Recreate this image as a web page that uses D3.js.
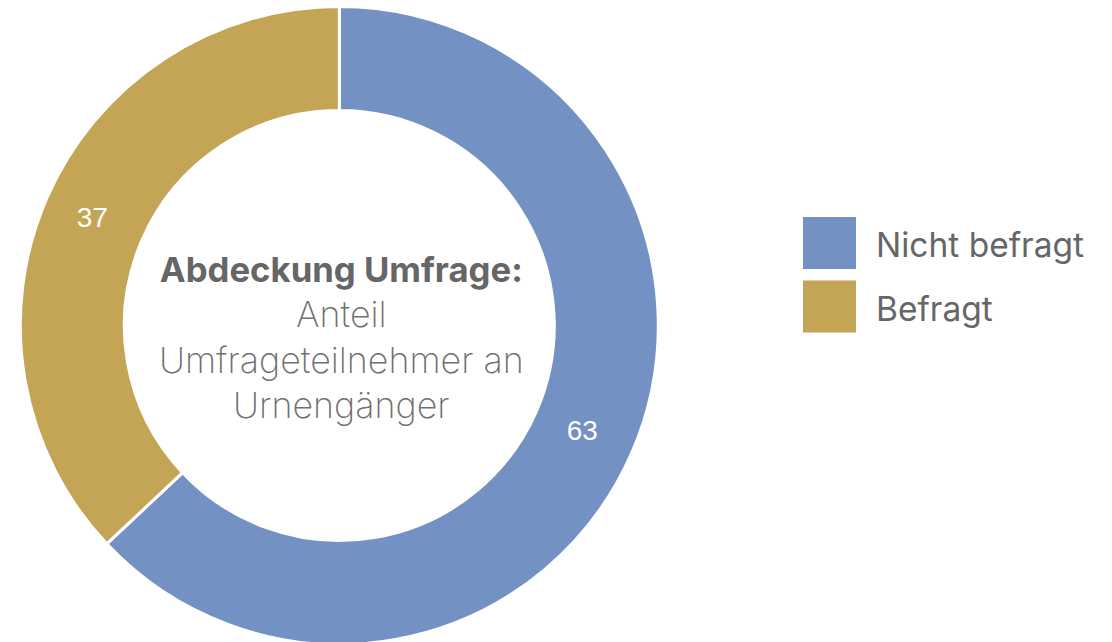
<!DOCTYPE html>
<html>
<head>
<meta charset="utf-8">
<script src="https://cdn.jsdelivr.net/npm/d3@7"></script>
<style>
  html, body { margin: 0; padding: 0; background: #fff; }
  svg { display: block; }
</style>
</head>
<body>
<svg id="chart" width="1112" height="642"></svg>
<script>
const categories = ["Nicht befragt", "Befragt"];
const values = [63, 37];
const palette = ["#7491C3", "#C4A455"];
const centerTitle = "Abdeckung Umfrage:";
const centerLines = ["Anteil", "Umfrageteilnehmer an", "Urnengänger"];

const svg = d3.select("#chart");
const cx = 339.3, cy = 325.5;
const outerR = 319, innerR = 215;

const color = d3.scaleOrdinal().domain(categories).range(palette);

const pie = d3.pie().sort(null).value(d => d.value);
const arc = d3.arc().innerRadius(innerR).outerRadius(outerR);

const arcs = pie(categories.map((c, i) => ({ name: c, value: values[i] })));

const g = svg.append("g").attr("transform", "translate(" + cx + "," + cy + ")");

g.selectAll("path")
    .data(arcs)
    .enter()
    .append("path")
    .attr("d", arc)
    .attr("fill", d => color(d.data.name))
    .attr("stroke", "#fff")
    .attr("stroke-width", 3);

g.selectAll("text.value")
    .data(arcs)
    .enter()
    .append("text")
    .attr("class", "value")
    .attr("x", d => arc.centroid(d)[0] - 2)
    .attr("y", d => arc.centroid(d)[1] + 8)
    .attr("text-anchor", "middle")
    .attr("font-family", "Liberation Sans, Arial, sans-serif")
    .attr("font-size", 28)
    .attr("fill", "#fff")
    .text(d => d.data.value);

// centre text
const center = g.append("text")
    .attr("text-anchor", "middle")
    .attr("font-family", "Inter, sans-serif")
    .attr("fill", "#666");

center.append("tspan")
    .attr("x", 2)
    .attr("y", 282 - cy)
    .attr("font-size", 34.7)
    .attr("font-weight", 700)
    .text(centerTitle);

centerLines.forEach((line, i) => {
    center.append("tspan")
        .attr("x", 2)
        .attr("y", 327 - cy + i * 45.5)
        .attr("font-size", 35.8)
        .attr("font-weight", 250)
        .attr("fill", "#707070")
        .text(line);
});

// legend
const legend = svg.append("g")
    .attr("transform", "translate(803,217)")
    .selectAll("g")
    .data(categories)
    .enter()
    .append("g")
    .attr("transform", (d, i) => "translate(0," + i * 63.5 + ")");

legend.append("rect")
    .attr("width", 53)
    .attr("height", 52)
    .attr("fill", d => color(d));

legend.append("text")
    .attr("x", 73)
    .attr("y", 40)
    .attr("font-family", "Inter, sans-serif")
    .attr("font-size", 33.5)
    .attr("fill", "#666")
    .text(d => d);
</script>
</body>
</html>
